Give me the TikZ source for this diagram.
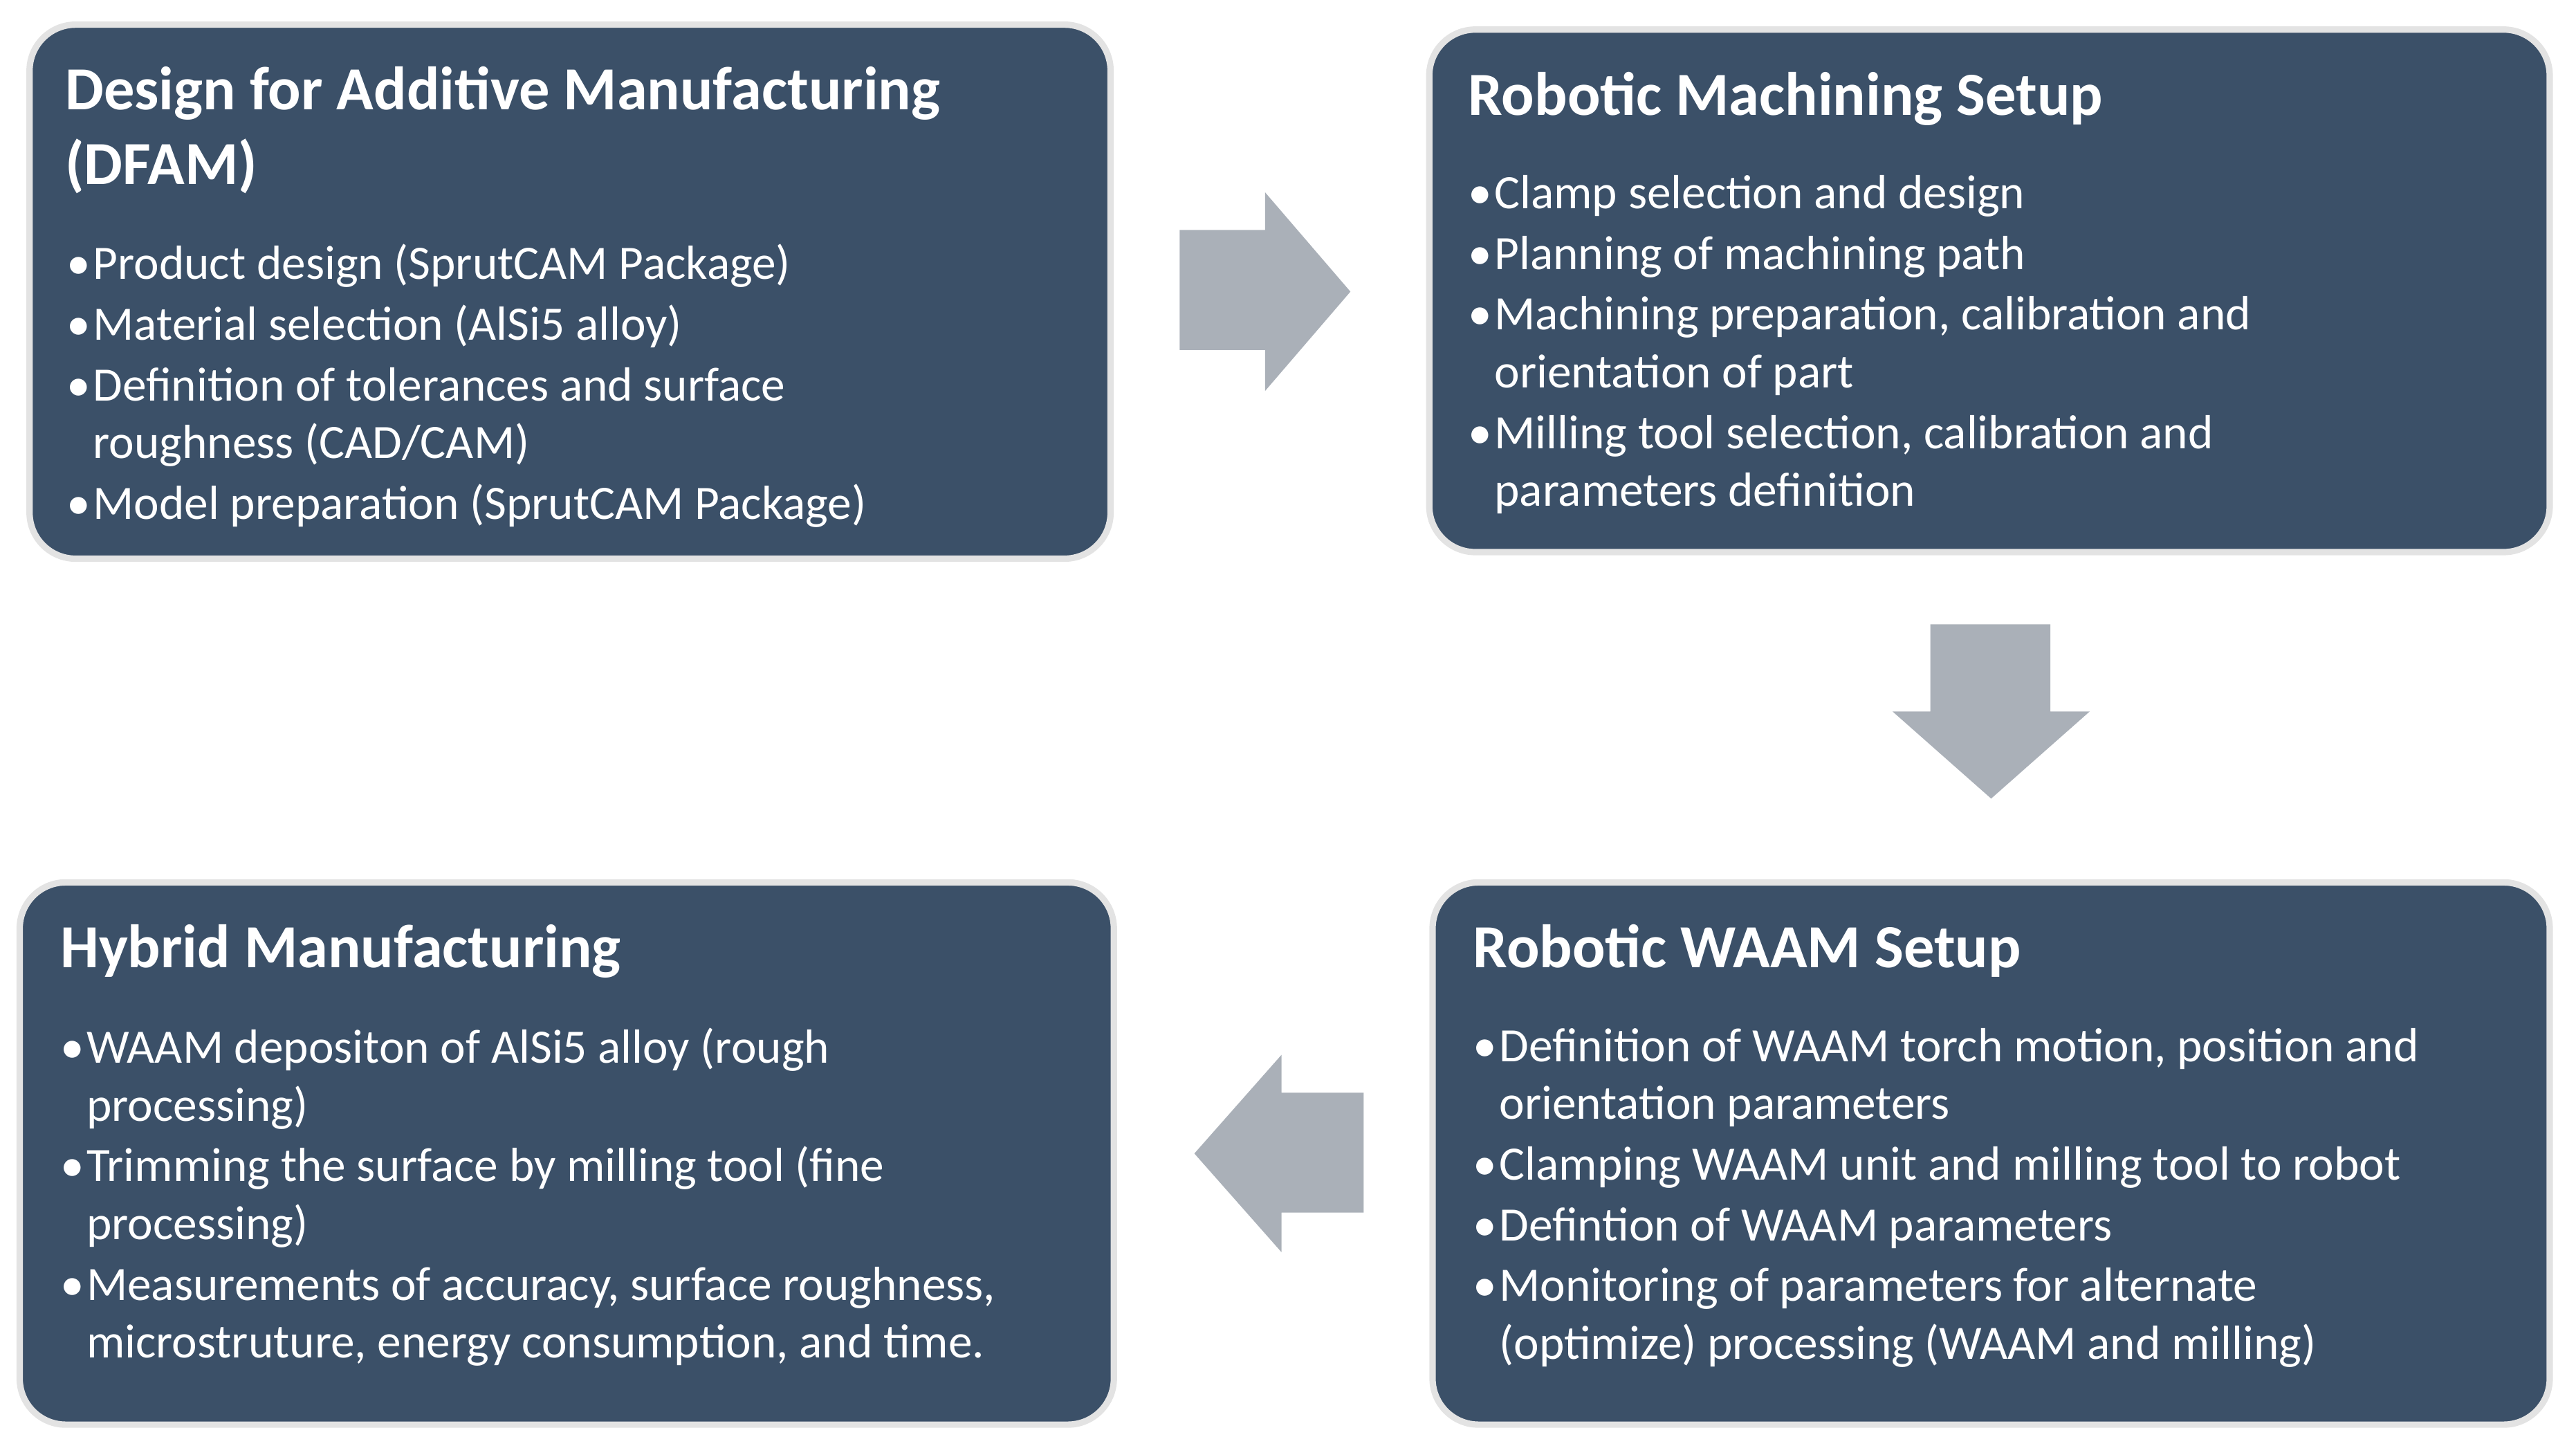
\documentclass[tikz,border=0pt]{standalone}
\usepackage{fontspec}
\setmainfont{Carlito}
\definecolor{boxfill}{HTML}{3B5068}
\definecolor{boxedge}{HTML}{E3E3E3}
\definecolor{arr}{HTML}{AAB0B8}
\newcommand{\ti}[1]{{\fontsize{10.6pt}{12.6pt}\selectfont\bfseries #1}}
\newcommand{\bu}{\makebox[0.16cm][l]{•}}
\newcommand{\ct}{\hspace*{0.16cm}}
\begin{document}
\begin{tikzpicture}[x=0.01cm,y=-0.01cm,
  box/.style={draw=boxedge,line width=1.1pt,fill=boxfill,rounded corners=0.28cm},
  ttl/.style={anchor=north west,inner sep=0pt,text=white,align=left,font=\fontsize{10.6pt}{12.9pt}\selectfont\bfseries},
  body/.style={anchor=north west,inner sep=0pt,text=white,align=left,font=\fontsize{8.3pt}{10pt}\selectfont},
  arrow/.style={fill=arr,draw=none}]
\useasboundingbox (0,0) rectangle (1568,879.6);
% boxes
\draw[box] (18,15) rectangle (676,340);
\draw[box] (870,18) rectangle (1552,336);
\draw[box] (12,537) rectangle (678,867);
\draw[box] (872,537) rectangle (1552,867);
% titles
\node[ttl] (t1) at (39,40) {Design for Additive Manufacturing\\(DFAM)};
\node[ttl] (t2) at (893,43) {Robotic Machining Setup};
\node[ttl] (t3) at (36,562) {Hybrid Manufacturing};
\node[ttl] (t4) at (896,562) {Robotic WAAM Setup};
% bodies
\node[body] (b1) at (40,148) {\bu Product design (SprutCAM Package)\\[0.5pt]
\bu Material selection (AlSi5 alloy)\\[0.5pt]
\bu Definition of tolerances and surface\\ \ct roughness (CAD/CAM)\\[0.5pt]
\bu Model preparation (SprutCAM Package)};
\node[body] (b2) at (893,106) {\bu Clamp selection and design\\[0.5pt]
\bu Planning of machining path\\[0.5pt]
\bu Machining preparation, calibration and\\ \ct orientation of part\\[0.5pt]
\bu Milling tool selection, calibration and\\ \ct parameters definition};
\node[body] (b3) at (36,625) {\bu WAAM depositon of AlSi5 alloy (rough\\ \ct processing)\\[0.5pt]
\bu Trimming the surface by milling tool (fine\\ \ct processing)\\[0.5pt]
\bu Measurements of accuracy, surface roughness,\\ \ct microstruture, energy consumption, and time.};
\node[body] (b4) at (896,625) {\bu Definition of WAAM torch motion, position and\\ \ct orientation parameters\\[0.5pt]
\bu Clamping WAAM unit and milling tool to robot\\[0.5pt]
\bu Defintion of WAAM parameters\\[0.5pt]
\bu Monitoring of parameters for alternate\\ \ct (optimize) processing (WAAM and milling)};
% arrows
\fill[arrow] (718,140) -- (770,140) -- (770,117) -- (822,177.5) -- (770,238) -- (770,213) -- (718,213) -- cycle;
\fill[arrow] (1175,380) -- (1248,380) -- (1248,433) -- (1272,433) -- (1212,486) -- (1152,433) -- (1175,433) -- cycle;
\fill[arrow] (830,665) -- (780,665) -- (780,642) -- (727,702) -- (780,762) -- (780,738) -- (830,738) -- cycle;
\end{tikzpicture}
\end{document}
